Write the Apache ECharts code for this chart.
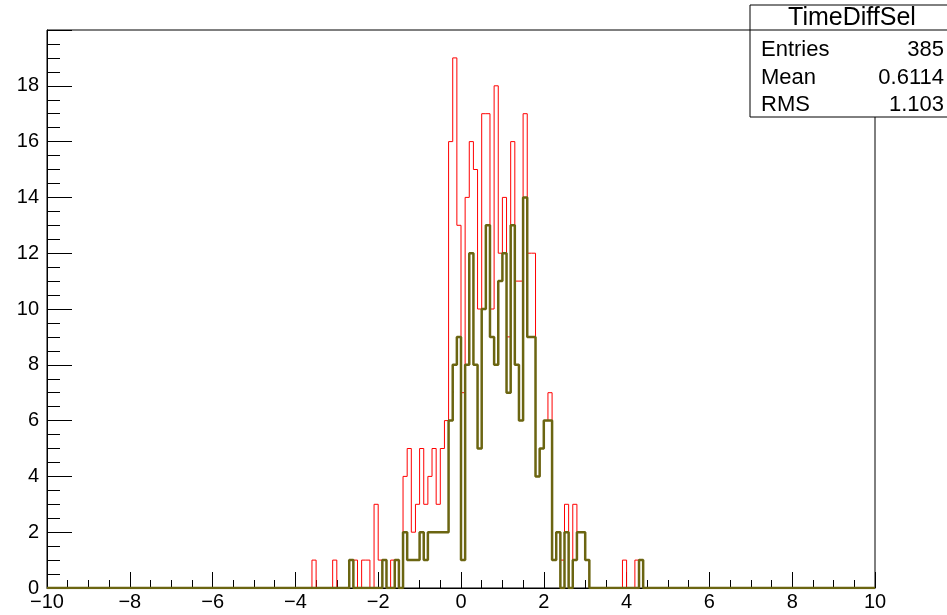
<!DOCTYPE html>
<html>
<head>
<meta charset="utf-8">
<script src="https://cdn.jsdelivr.net/npm/echarts@6/dist/echarts.min.js"></script>
<style>
  html, body { margin: 0; padding: 0; background: #fff; }
  #chart { width: 947px; height: 615px; }
</style>
</head>
<body>
<div id="chart"></div>
<script>
// TimeDiffSel histogram, 0.1 wide bins; counts start at bin low edge firstBin
const xRange = [-10, 10];
const binWidth = 0.1;
const firstBin = -3.6;

// all entries (red)
const allCounts = [
  1, 0, 0, 0, 0, 1, 0, 0, 0, 1,
  1, 0, 1, 1, 0, 3, 1, 1, 0, 1,
  1, 0, 4, 5, 2, 3, 5, 3, 4, 5,
  3, 5, 6, 16, 19, 13, 7, 14, 16, 15,
  10, 17, 17, 10, 18, 12, 14, 9, 16, 11,
  11, 17, 12, 12, 4, 5, 6, 7, 1, 2,
  1, 3, 0, 3, 2, 2, 1, 0, 0, 0,
  0, 0, 0, 0, 0, 1, 0, 0, 1, 1
];

// selected entries (olive)
const selCounts = [
  0, 0, 0, 0, 0, 0, 0, 0, 0, 1,
  0, 0, 0, 0, 0, 0, 0, 1, 0, 0,
  1, 0, 2, 1, 1, 1, 2, 1, 2, 2,
  2, 2, 2, 6, 8, 9, 1, 8, 12, 8,
  5, 10, 13, 9, 8, 11, 12, 7, 13, 8,
  6, 14, 9, 9, 4, 5, 6, 6, 1, 2,
  0, 2, 0, 1, 2, 2, 1, 0, 0, 0,
  0, 0, 0, 0, 0, 0, 0, 0, 0, 1
];

const yTickLabels = [0, 2, 4, 6, 8, 10, 12, 14, 16, 18];
const statsTitle = 'TimeDiffSel';
const statsNames = ['Entries', 'Mean', 'RMS'];
const statsValues = ['385', '0.6114', '1.103'];

function stepData(counts) {
  const pts = [[xRange[0], 0]];
  counts.forEach((c, i) => {
    pts.push([+(firstBin + i * binWidth).toFixed(1), c]);
  });
  pts.push([+(firstBin + counts.length * binWidth).toFixed(1), 0]);
  pts.push([xRange[1], 0]);
  return pts;
}

const font = 'Liberation Sans, Arial, Helvetica, sans-serif';
const chart = echarts.init(document.getElementById('chart'));

const statsGraphics = [
  {
    type: 'rect',
    shape: { x: 750, y: 5, width: 220, height: 112 },
    style: { fill: '#fff', stroke: '#000', lineWidth: 1 },
    z: 100
  },
  {
    type: 'line',
    shape: { x1: 750, y1: 30, x2: 947, y2: 30 },
    style: { stroke: '#000', lineWidth: 1 },
    z: 101
  },
  {
    type: 'text',
    x: 852, y: 18,
    style: { text: statsTitle, font: '25px ' + font, fill: '#000', align: 'center', verticalAlign: 'middle' },
    z: 101
  }
];
statsNames.forEach((name, i) => {
  const y = 50 + i * 27.5;
  statsGraphics.push({
    type: 'text', x: 761, y: y,
    style: { text: name, font: '22px ' + font, fill: '#000', align: 'left', verticalAlign: 'middle' },
    z: 101
  });
  statsGraphics.push({
    type: 'text', x: 944, y: y,
    style: { text: statsValues[i], font: '22px ' + font, fill: '#000', align: 'right', verticalAlign: 'middle' },
    z: 101
  });
});

chart.setOption({
  animation: false,
  backgroundColor: '#fff',
  grid: {
    left: 47,
    right: 72,
    top: 30,
    bottom: 27,
    show: true,
    borderColor: '#000',
    borderWidth: 1,
    backgroundColor: 'transparent'
  },
  xAxis: {
    type: 'value',
    min: xRange[0],
    max: xRange[1],
    interval: 2,
    axisLine: { onZero: false, lineStyle: { color: '#000', width: 1 } },
    axisTick: { inside: true, length: 16, lineStyle: { color: '#000' } },
    minorTick: { show: true, splitNumber: 4, length: 8, lineStyle: { color: '#000' } },
    splitLine: { show: false },
    axisLabel: {
      color: '#000',
      fontSize: 20,
      fontFamily: font,
      margin: 4,
      formatter: v => String(v).replace('-', '\u2212')
    }
  },
  yAxis: {
    type: 'value',
    min: 0,
    max: 20,
    interval: 2,
    axisLine: { onZero: false, lineStyle: { color: '#000', width: 1 } },
    axisTick: { inside: true, length: 25, lineStyle: { color: '#000' } },
    minorTick: { show: true, splitNumber: 4, length: 13, lineStyle: { color: '#000' } },
    splitLine: { show: false },
    axisLabel: {
      color: '#000',
      fontSize: 20,
      fontFamily: font,
      margin: 8,
      formatter: v => (yTickLabels.includes(v) ? String(v) : '')
    }
  },
  series: [
    {
      name: 'all',
      type: 'line',
      step: 'end',
      symbol: 'none',
      data: stepData(allCounts),
      lineStyle: { color: '#ff0000', width: 1 },
      z: 2
    },
    {
      name: 'sel',
      type: 'line',
      step: 'end',
      symbol: 'none',
      data: stepData(selCounts),
      lineStyle: { color: '#6b6511', width: 2.5 },
      z: 3
    }
  ],
  graphic: statsGraphics
});
</script>
</body>
</html>
